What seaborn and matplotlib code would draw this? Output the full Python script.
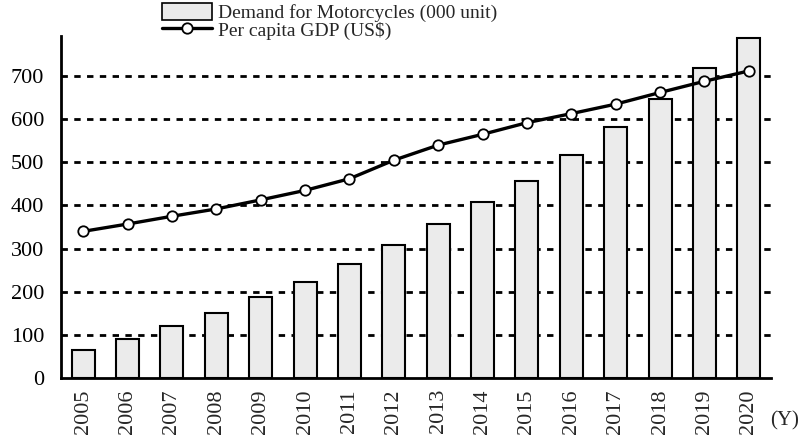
import matplotlib
matplotlib.use('Agg')
import matplotlib.pyplot as plt
import seaborn as sns
import pandas as pd
from matplotlib.lines import Line2D
from matplotlib.patches import Patch

years = [str(y) for y in range(2005, 2021)]
demand = [65, 90, 120, 150, 188, 222, 265, 308, 357, 408, 457, 518, 583, 648, 718, 788]
gdp = [340, 357, 375, 392, 413, 435, 462, 505, 540, 565, 592, 613, 635, 662, 688, 712]

df = pd.DataFrame({'Year': years, 'Demand': demand, 'GDP': gdp})

sns.set_style('white')
plt.rcParams['font.family'] = ['Liberation Serif', 'DejaVu Serif']

fig = plt.figure(figsize=(8.01, 4.47), dpi=100)
ax = fig.add_axes([61 / 801, 1 - 378 / 447, 710 / 801, 342 / 447])

bar_color = '#ebebeb'
sns.barplot(data=df, x='Year', y='Demand', color=bar_color, edgecolor='black',
            linewidth=1.5, width=0.52, saturation=1, ax=ax)
ax.plot(range(len(years)), gdp, color='black', linewidth=2.4, marker='o',
        markersize=7.5, markerfacecolor='white', markeredgecolor='black',
        markeredgewidth=1.3, zorder=5)

ax.set_xlim(-0.5, len(years) - 0.5)
ax.set_ylim(0, 793)
ax.set_yticks(range(0, 701, 100))
for v in range(100, 701, 100):
    ax.axhline(v, color='black', linewidth=2, linestyle=(0, (2.3, 2.3)), zorder=0.5)

for s in ['top', 'right']:
    ax.spines[s].set_visible(False)
for s in ['left', 'bottom']:
    ax.spines[s].set_color('black')
    ax.spines[s].set_linewidth(2)

ax.set_xticks([i - 0.5 for i in range(len(years) + 1)], minor=True)
ax.tick_params(axis='x', which='major', length=0, labelsize=16, rotation=90, pad=8)
ax.tick_params(axis='x', which='minor', direction='in', length=7, width=1.5, color='black')
ax.tick_params(axis='y', direction='in', length=6, width=1.5, labelsize=16, pad=12,
               colors='black')
ax.set_xlabel('')
ax.set_ylabel('')
fig.text(799 / 801, 1 - 421 / 447, '(Y)', fontsize=15, ha='right', va='center')

handles = [Patch(facecolor=bar_color, edgecolor='black', linewidth=1.2),
           Line2D([], [], color='black', linewidth=2.4, marker='o', markersize=7.5,
                  markerfacecolor='white', markeredgewidth=1.3)]
fig.legend(handles, ['Demand for Motorcycles (000 unit)', 'Per capita GDP (US$)'],
           loc='upper left', bbox_to_anchor=(154 / 801, 1.01), frameon=False,
           fontsize=14, handlelength=2.6, handleheight=0.95, labelspacing=-0.1,
           handletextpad=0.3, borderaxespad=0)

fig.savefig('out.png', dpi=100)
